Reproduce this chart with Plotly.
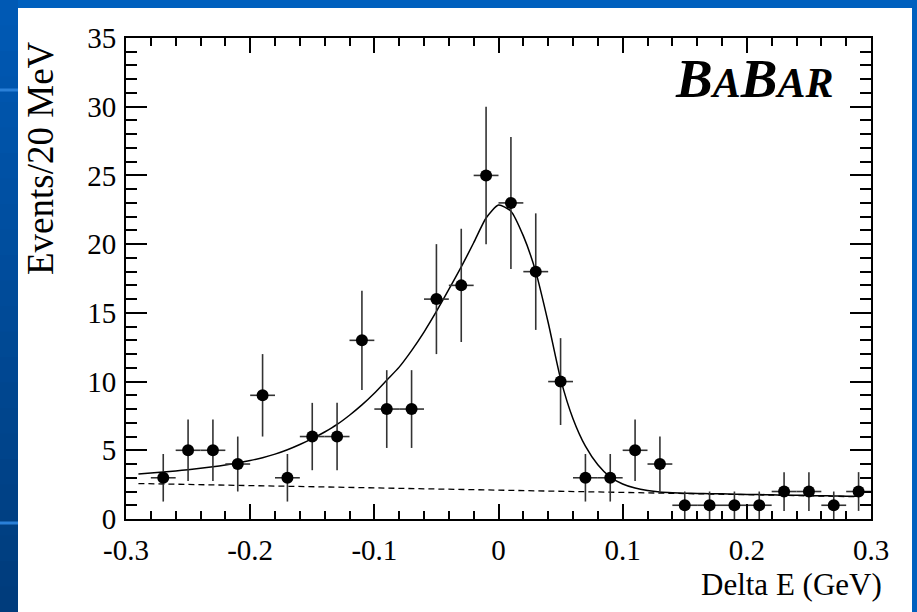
import plotly.graph_objects as go

# Delta E distribution, 20 MeV bins (bin centres), with Poisson errors
delta_e = [-0.27, -0.25, -0.23, -0.21, -0.19, -0.17, -0.15, -0.13, -0.11, -0.09,
           -0.07, -0.05, -0.03, -0.01, 0.01, 0.03, 0.05, 0.07, 0.09, 0.11,
           0.13, 0.15, 0.17, 0.19, 0.21, 0.23, 0.25, 0.27, 0.29]
events = [3, 5, 5, 4, 9, 3, 6, 6, 13, 8,
          8, 16, 17, 25, 23, 18, 10, 3, 3, 5,
          4, 1, 1, 1, 1, 2, 2, 1, 2]
event_err = [1.73, 2.24, 2.24, 2.0, 3.0, 1.73, 2.45, 2.45, 3.61, 2.83,
             2.83, 4.0, 4.12, 5.0, 4.80, 4.24, 3.16, 1.73, 1.73, 2.24,
             2.0, 1.0, 1.0, 1.0, 1.0, 1.41, 1.41, 1.0, 1.41]
half_bin = 0.01

# Fitted total PDF (signal + background), sampled every 10 MeV
fit_x = [-0.29, -0.28, -0.27, -0.26, -0.25, -0.24, -0.23, -0.22, -0.21, -0.20,
         -0.19, -0.18, -0.17, -0.16, -0.15, -0.14, -0.13, -0.12, -0.11, -0.10,
         -0.09, -0.08, -0.07, -0.06, -0.05, -0.04, -0.03, -0.02, -0.01, 0.00,
         0.01, 0.02, 0.03, 0.04, 0.05, 0.06, 0.07, 0.08, 0.09, 0.10,
         0.11, 0.12, 0.13, 0.14, 0.15, 0.16, 0.17, 0.18, 0.19, 0.20,
         0.21, 0.22, 0.23, 0.24, 0.25, 0.26, 0.27, 0.28, 0.29]
fit_y = [3.27, 3.34, 3.42, 3.50, 3.59, 3.69, 3.80, 3.93, 4.08, 4.25,
         4.46, 4.72, 5.04, 5.42, 5.85, 6.33, 6.88, 7.55, 8.30, 9.15,
         10.10, 11.05, 12.25, 13.60, 15.10, 16.70, 18.35, 20.10, 21.90, 22.85,
         22.40, 20.60, 18.00, 14.30, 10.20, 7.30, 5.30, 3.95, 3.05, 2.55,
         2.25, 2.07, 1.96, 1.91, 1.88, 1.86, 1.84, 1.83, 1.81, 1.79,
         1.78, 1.76, 1.74, 1.73, 1.71, 1.69, 1.68, 1.66, 1.65]

# Linear background component
bkg_x = [-0.29, 0.29]
bkg_y = [2.58, 1.62]

x_ticks = [-0.3, -0.2, -0.1, 0.0, 0.1, 0.2, 0.3]
x_tick_text = ["-0.3", "-0.2", "-0.1", "0", "0.1", "0.2", "0.3"]
y_ticks = [0, 5, 10, 15, 20, 25, 30, 35]

W, H = 917, 612
ML, MR, MT, MB = 126, 46, 38, 93
PW, PH = W - ML - MR, H - MT - MB


def px(x):
    return (x - ML) / PW


def py(y):
    return (H - MB - y) / PH


SERIF = "Liberation Serif, Times New Roman, serif"

fig = go.Figure()

fig.add_trace(go.Scatter(
    x=bkg_x, y=bkg_y, mode="lines",
    line=dict(color="black", width=1.3, dash="6px,4px"),
    hoverinfo="skip", showlegend=False))

fig.add_trace(go.Scatter(
    x=fit_x, y=fit_y, mode="lines",
    line=dict(color="black", width=1.5, shape="spline", smoothing=0.6),
    hoverinfo="skip", showlegend=False))

fig.add_trace(go.Scatter(
    x=delta_e, y=events, mode="markers",
    marker=dict(color="black", size=12),
    error_y=dict(type="data", array=event_err, visible=True,
                 color="#333333", thickness=1.6, width=0),
    error_x=dict(type="constant", value=half_bin, visible=True,
                 color="#333333", thickness=1.6, width=0),
    showlegend=False))

# slide background: blue frame with a darker graded strip on the left
shapes = []
top_col = (0x00, 0x59, 0xB4)
bot_col = (0x00, 0x3C, 0x7C)
n_bands = 24
for i in range(n_bands):
    t = i / (n_bands - 1)
    c = tuple(round(a + (b - a) * t) for a, b in zip(top_col, bot_col))
    y0 = H * i / n_bands
    y1 = H * (i + 1) / n_bands + 1
    shapes.append(dict(type="rect", xref="paper", yref="paper",
                       x0=px(0), x1=px(18), y0=py(y1), y1=py(y0),
                       fillcolor="rgb(%d,%d,%d)" % c, line=dict(width=0),
                       layer="below"))
for yl in (90, 523):
    shapes.append(dict(type="rect", xref="paper", yref="paper",
                       x0=px(0), x1=px(18), y0=py(yl + 1.5), y1=py(yl - 1.5),
                       fillcolor="#2A80D8", line=dict(width=0), layer="below"))
shapes.append(dict(type="rect", xref="paper", yref="paper",
                   x0=px(18), x1=px(912), y0=py(H + 2), y1=py(8),
                   fillcolor="white", line=dict(width=0), layer="below"))

annotations = [
    dict(text="<b><i>B<span style='font-size:42px'>A</span>B"
              "<span style='font-size:42px'>AR</span></i></b>",
         xref="paper", yref="paper", x=px(835), y=py(79),
         xanchor="right", yanchor="middle", showarrow=False,
         font=dict(family=SERIF, size=55, color="black")),
    dict(text="Events/20 MeV", textangle=-90,
         xref="paper", yref="paper", x=px(40), y=py(158),
         xanchor="center", yanchor="middle", showarrow=False,
         font=dict(family=SERIF, size=37, color="black")),
    dict(text="Delta E (GeV)",
         xref="paper", yref="paper", x=px(884), y=py(584),
         xanchor="right", yanchor="middle", showarrow=False,
         font=dict(family=SERIF, size=31, color="black")),
]

axis_common = dict(
    showgrid=False, zeroline=False, showline=True, linecolor="black",
    linewidth=2, mirror="ticks", ticks="inside", tickcolor="black",
    tickwidth=1.5, tickfont=dict(family=SERIF, size=29, color="black"),
)

fig.update_layout(
    width=W, height=H,
    margin=dict(l=ML, r=MR, t=MT, b=MB, pad=0),
    paper_bgcolor="#0060BE", plot_bgcolor="white",
    shapes=shapes, annotations=annotations,
    xaxis=dict(range=[-0.3, 0.3], tickvals=x_ticks, ticktext=x_tick_text,
               ticklen=15, ticklabelstandoff=4,
               minor=dict(dtick=0.02, ticklen=8, tickwidth=1.5,
                          tickcolor="black", ticks="inside"),
               **axis_common),
    yaxis=dict(range=[0, 35], tickvals=y_ticks, ticklen=21,
               ticklabelstandoff=2,
               minor=dict(dtick=1, ticklen=11, tickwidth=1.5,
                          tickcolor="black", ticks="inside"),
               **axis_common),
)

fig.write_html("out.html")
